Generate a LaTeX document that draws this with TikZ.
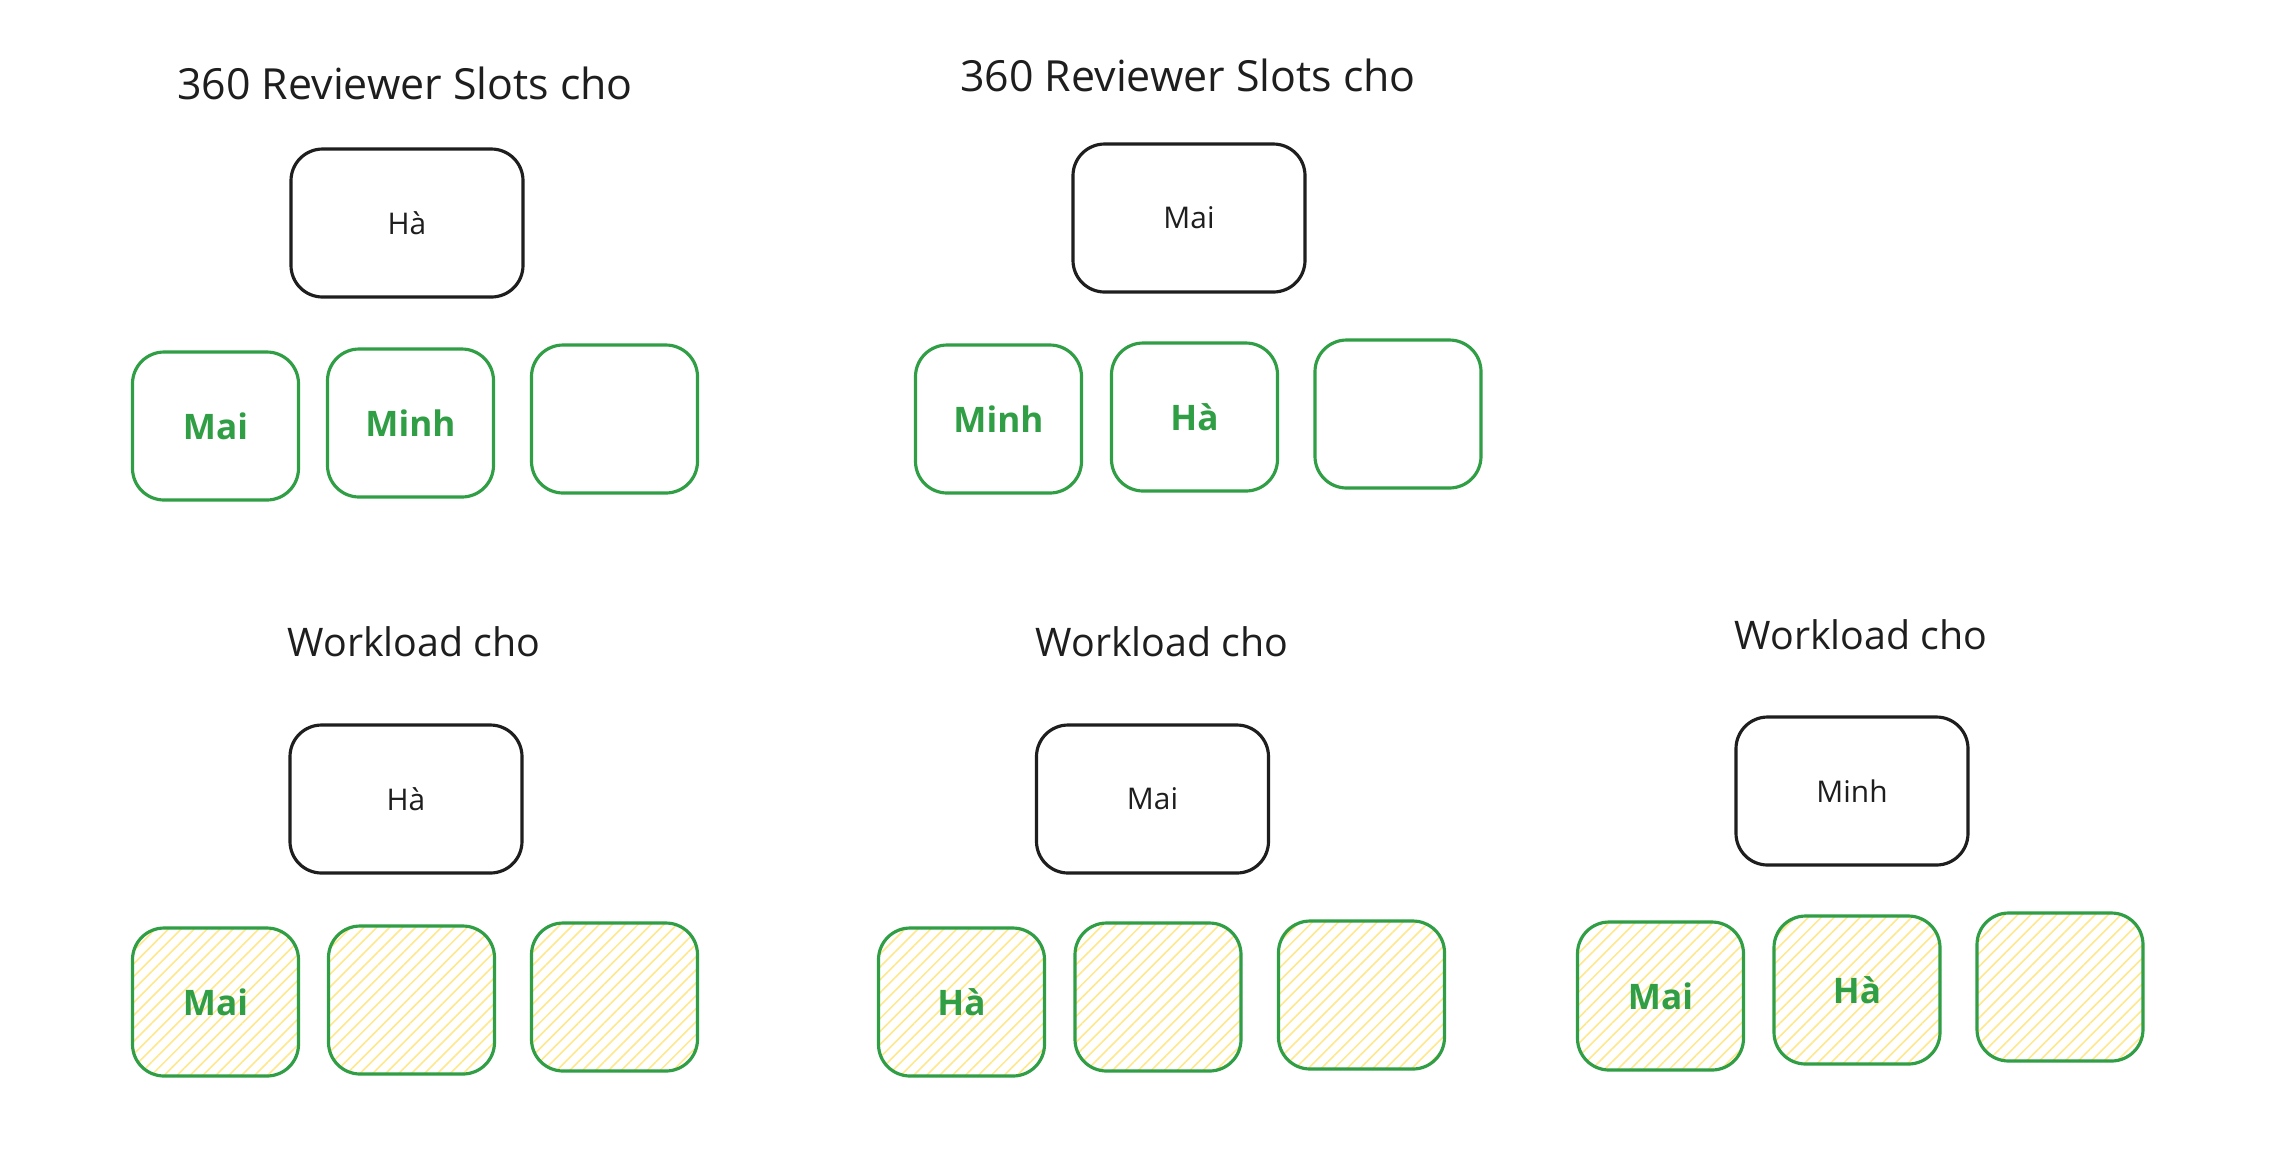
\documentclass[tikz,border=0pt]{standalone}
\usepackage{fontspec}
\setmainfont{Open Sans}
\usetikzlibrary{positioning, patterns.meta}
\definecolor{cInk}{RGB}{30,30,30}
\definecolor{cGreen}{RGB}{47,158,68}
\definecolor{cHatch}{RGB}{255,232,140}
\tikzset{
  titlenode/.style={font=\fontsize{12.2}{14}\selectfont, text=cInk, inner sep=0pt},
  loadtitle/.style={titlenode, font=\fontsize{11.2}{13}\selectfont},
  ownerbox/.style={rectangle, rounded corners=9pt, draw=cInk, line width=0.9pt,
                   minimum width=2.32cm, minimum height=1.48cm,
                   font=\fontsize{8.5}{10}\selectfont, text=cInk},
  slotbox/.style={rectangle, rounded corners=9pt, draw=cGreen, line width=0.9pt,
                  minimum width=1.66cm, minimum height=1.48cm,
                  font=\fontsize{10}{12}\selectfont\bfseries, text=cGreen},
  loadbox/.style={slotbox, pattern={Lines[angle=45, distance=2.6pt, line width=0.45pt]},
                  pattern color=cHatch}
}
\begin{document}
\begin{tikzpicture}
  \useasboundingbox[fill=white] (0,0) rectangle (22.74,-11.62);

  % reviewer slots for Ha
  \node[titlenode] (title1) at (4.05,-0.83) {360 Reviewer Slots cho};
  \node[ownerbox] (own1) at (4.07,-2.23) {Hà};
  \node[slotbox] (s11) at (2.155,-4.26) {Mai};
  \node[slotbox] (s12) at (4.105,-4.23) {Minh};
  \node[slotbox] (s13) at (6.145,-4.19) {};

  % reviewer slots for Mai
  \node[titlenode] (title2) at (11.88,-0.75) {360 Reviewer Slots cho};
  \node[ownerbox] (own2) at (11.89,-2.18) {Mai};
  \node[slotbox] (s21) at (9.985,-4.19) {Minh};
  \node[slotbox] (s22) at (11.945,-4.17) {Hà};
  \node[slotbox] (s23) at (13.98,-4.14) {};

  % workload for Ha
  \node[loadtitle] (title3) at (4.14,-6.42) {Workload cho};
  \node[ownerbox] (own3) at (4.06,-7.99) {Hà};
  \node[loadbox] (h11) at (2.155,-10.02) {Mai};
  \node[loadbox] (h12) at (4.115,-10.00) {};
  \node[loadbox] (h13) at (6.145,-9.97) {};

  % workload for Mai
  \node[loadtitle] (title4) at (11.62,-6.42) {Workload cho};
  \node[ownerbox] (own4) at (11.525,-7.99) {Mai};
  \node[loadbox] (h21) at (9.615,-10.02) {Hà};
  \node[loadbox] (h22) at (11.58,-9.97) {};
  \node[loadbox] (h23) at (13.615,-9.95) {};

  % workload for Minh
  \node[loadtitle] (title5) at (18.61,-6.35) {Workload cho};
  \node[ownerbox] (own5) at (18.52,-7.91) {Minh};
  \node[loadbox] (h31) at (16.605,-9.96) {Mai};
  \node[loadbox] (h32) at (18.57,-9.90) {Hà};
  \node[loadbox] (h33) at (20.60,-9.87) {};

\end{tikzpicture}
\end{document}
